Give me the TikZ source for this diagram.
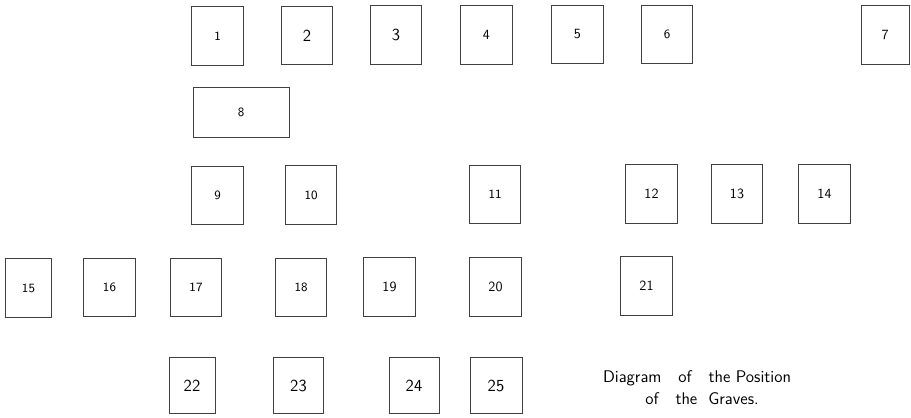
\documentclass[tikz,border=0pt]{standalone}
\usetikzlibrary{positioning}

\begin{document}
\begin{tikzpicture}[x=0.025cm, y=-0.025cm,
  grave/.style={draw=black!75, line width=0.6pt, rectangle, inner sep=0pt,
    minimum width=1.28cm, minimum height=1.46cm, font=\sffamily\normalsize},
  wee/.style={font=\sffamily\small},
  big/.style={font=\sffamily\large}]
  \useasboundingbox (0,0) rectangle (911,417);

  % erste Reihe
  \node[grave, wee]             (g1) at (217.5,36)  {1};
  \node[grave, big]             (g2) at (307,35.5)  {2};
  \node[grave, big]             (g3) at (396,35)    {3};
  \node[grave]                  (g4) at (486.5,35)  {4};
  \node[grave]                  (g5) at (577.5,34.5) {5};
  \node[grave, wee]             (g6) at (667,34.5)  {6};
  \node[grave, minimum width=1.2cm] (g7) at (885,35) {7};

  % breites Grab
  \node[grave, wee, minimum width=2.4cm, minimum height=1.25cm] (g8) at (241,112) {8};

  % dritte Reihe
  \node[grave, wee]             (g9)  at (217.5,195.5) {9};
  \node[grave, wee]             (g10) at (311,195)     {10};
  \node[grave, wee]             (g11) at (495,194.5)   {11};
  \node[grave]                  (g12) at (651.5,194)   {12};
  \node[grave]                  (g13) at (737,194)     {13};
  \node[grave]                  (g14) at (824.5,194)   {14};

  % vierte Reihe
  \node[grave, wee, minimum width=1.13cm] (g15) at (28.5,288) {15};
  \node[grave, wee]             (g16) at (109.5,287.5) {16};
  \node[grave, wee]             (g17) at (196,287.5)   {17};
  \node[grave, wee]             (g18) at (301,287.5)   {18};
  \node[grave]                  (g19) at (389.5,287)   {19};
  \node[grave]                  (g20) at (495.5,287)   {20};
  \node[grave]                  (g21) at (646.5,286)   {21};

  % letzte Reihe
  \node[grave, big, minimum width=1.15cm, minimum height=1.38cm] (g22) at (192,385.5) {22};
  \node[grave, big, minimum width=1.23cm, minimum height=1.38cm] (g23) at (298.5,385.5) {23};
  \node[grave, big, minimum width=1.25cm, minimum height=1.38cm] (g24) at (414,385.5) {24};
  \node[grave, big, minimum width=1.3cm, minimum height=1.38cm]  (g25) at (496,385.5) {25};

  % Beschriftung
  \node[font=\sffamily\large] (cap1) at (697,378) {Diagram\quad of\quad the Position};
  \node[font=\sffamily\large] (cap2) at (702,399) {of\quad the\ \ Graves.};
\end{tikzpicture}
\end{document}
